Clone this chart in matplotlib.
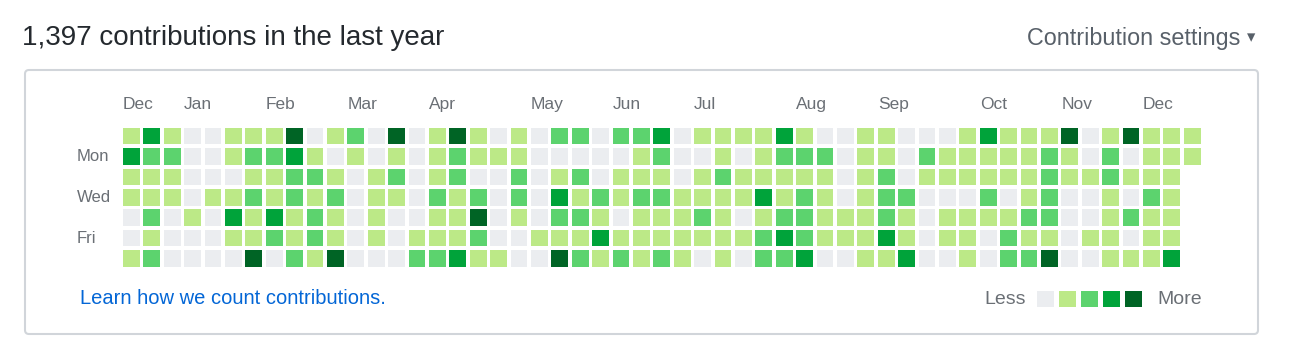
import matplotlib
matplotlib.use("Agg")
from matplotlib import pyplot as plt
from matplotlib.patches import Rectangle, FancyBboxPatch

plt.rcParams['font.family'] = ['Liberation Sans', 'DejaVu Sans']

title = "1,397 contributions in the last year"
months = ['Dec', 'Jan', 'Feb', 'Mar', 'Apr', 'May', 'Jun', 'Jul', 'Aug', 'Sep', 'Oct', 'Nov', 'Dec']
month_cols = [0, 3, 7, 11, 15, 20, 24, 28, 33, 37, 42, 46, 50]
day_labels = ['', 'Mon', '', 'Wed', '', 'Fri', '']
level_colors = ['#ebedf0', '#bce987', '#5cd36e', '#00a33a', '#006425']

# contribution level per weekday row (Sun..Sat), one value per week
sun = [1, 3, 1, 0, 0, 1, 1, 1, 4, 0, 1, 2, 0, 4, 0, 1, 4, 1, 0, 1, 0, 2, 2, 0, 2,
       2, 3, 0, 1, 1, 1, 1, 3, 1, 0, 0, 1, 1, 0, 0, 0, 1, 3, 1, 1, 1, 4, 0, 1, 4, 1, 1, 1]
mon = [3, 2, 2, 0, 0, 1, 2, 2, 3, 1, 0, 1, 0, 1, 0, 1, 2, 1, 1, 1, 0, 0, 0, 0, 0,
       1, 2, 0, 0, 1, 0, 1, 2, 2, 2, 0, 1, 1, 0, 2, 1, 1, 1, 1, 1, 2, 1, 0, 2, 0, 1, 1, 1]
tue = [1, 1, 1, 0, 0, 0, 1, 1, 2, 2, 1, 0, 1, 2, 0, 1, 2, 0, 0, 2, 0, 1, 2, 0, 1,
       1, 1, 0, 1, 2, 1, 1, 1, 1, 1, 0, 1, 2, 0, 1, 1, 1, 1, 1, 1, 2, 1, 1, 2, 1, 1, 1]
wed = [1, 1, 1, 0, 1, 1, 2, 1, 2, 1, 2, 0, 1, 1, 0, 2, 1, 2, 0, 2, 0, 3, 1, 2, 1,
       2, 2, 1, 1, 1, 1, 3, 1, 2, 1, 0, 1, 2, 2, 0, 0, 0, 2, 0, 1, 2, 0, 0, 1, 0, 2, 1]
thu = [0, 2, 0, 1, 0, 3, 1, 3, 1, 2, 1, 0, 1, 0, 0, 1, 1, 4, 0, 1, 0, 2, 2, 1, 0,
       1, 1, 1, 2, 1, 0, 1, 2, 2, 1, 1, 1, 2, 1, 0, 1, 1, 1, 1, 2, 2, 0, 0, 1, 2, 1, 1]
fri = [0, 1, 0, 0, 0, 1, 1, 2, 1, 2, 1, 0, 1, 0, 1, 1, 1, 2, 0, 0, 1, 1, 1, 3, 1,
       1, 1, 1, 1, 1, 1, 2, 3, 2, 1, 1, 1, 3, 1, 0, 1, 1, 0, 2, 1, 1, 0, 1, 1, 0, 1, 1]
sat = [1, 2, 0, 0, 0, 0, 4, 0, 2, 1, 4, 0, 0, 0, 2, 2, 3, 1, 1, 0, 0, 4, 2, 1, 2,
       1, 2, 1, 0, 1, 0, 2, 2, 3, 0, 0, 1, 1, 3, 0, 0, 1, 0, 2, 2, 4, 0, 0, 1, 1, 1, 3]
rows = [sun, mon, tue, wed, thu, fri, sat]

W, H = 1299, 352
fig = plt.figure(figsize=(W / 100, H / 100), dpi=100)

# background layer in pixel units: header, frame, footer link
bg = fig.add_axes([0, 0, 1, 1])
bg.set_xlim(0, W)
bg.set_ylim(H, 0)
bg.axis('off')
bg.add_patch(FancyBboxPatch((25, 70), 1233, 264, boxstyle='round,pad=0,rounding_size=4',
                            facecolor='white', edgecolor='#d1d5da', lw=1.5))
bg.text(22, 38, title, fontsize=20, color='#24292e', va='center', ha='left')
bg.text(1240, 38, 'Contribution settings', fontsize=16.8, color='#586069',
        va='center', ha='right')
bg.text(1251, 38, '\u25be', fontsize=12, color='#586069', va='center', ha='center')
bg.text(80, 299, 'Learn how we count contributions.', fontsize=14.5, color='#0366d6',
        va='center', ha='left')

# the calendar grid, one data unit per week / day
ax = fig.add_axes([123 / W, 1 - 270.5 / H, 1081.2 / W, 142.8 / H])
ax.set_xlim(0, 53)
ax.set_ylim(7, 0)
ax.axis('off')
cell = 0.82
for r, row in enumerate(rows):
    for c, lvl in enumerate(row):
        ax.add_patch(Rectangle((c, r), cell, cell, facecolor=level_colors[lvl],
                               edgecolor='none'))

for m, c in zip(months, month_cols):
    ax.text(c, -1.15, m, fontsize=12.5, color='#6a6f75', ha='left', va='center')
for r, d in enumerate(day_labels):
    if d:
        ax.text(-2.25, r + cell / 2, d, fontsize=12, color='#6a6f75', ha='left', va='center')

# legend
ax.text(44.25, 8.4, 'Less', fontsize=14, color='#6a6f75', ha='right', va='center', clip_on=False)
for i, col in enumerate(level_colors):
    ax.add_patch(Rectangle((44.8 + i * 1.08, 7.99), cell, cell, facecolor=col,
                           edgecolor='none', clip_on=False))
ax.text(50.7, 8.4, 'More', fontsize=14, color='#6a6f75', ha='left', va='center', clip_on=False)

fig.savefig('out.png', dpi=100, facecolor='white')
